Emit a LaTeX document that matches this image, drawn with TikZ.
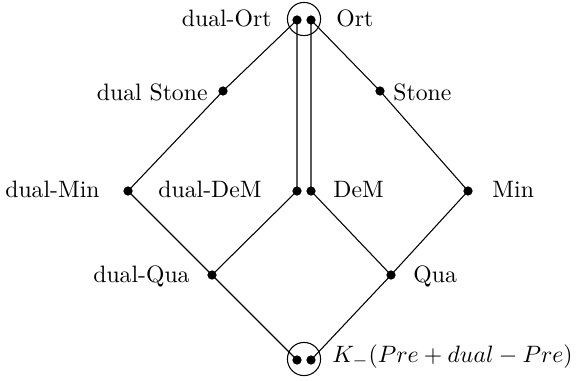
\documentclass[tikz,border=0pt]{standalone}
\begin{document}
\begin{tikzpicture}[x=0.422pt,y=-0.422pt,
  dot/.style={circle,fill=black,inner sep=0pt,minimum size=3.9pt},
  ring/.style={circle,draw,line width=0.45pt,inner sep=0pt,minimum size=14pt},
  rel/.style={line width=0.45pt},
  lbl/.style={inner sep=0pt}]
\useasboundingbox (0,0) rectangle (582,380);

% lattice points
\node[dot] (ortL) at (297,20) {};
\node[dot] (ortR) at (311,20) {};
\node[ring] (top) at (304,19) {};
\node[dot] (dStone) at (223,91) {};
\node[dot] (stone) at (380,91) {};
\node[dot] (dMin) at (128,191) {};
\node[dot] (min) at (468,191) {};
\node[dot] (dDeM) at (297,191) {};
\node[dot] (deM) at (311,191) {};
\node[dot] (dQua) at (212,275) {};
\node[dot] (qua) at (391,275) {};
\node[dot] (botL) at (297,360) {};
\node[dot] (botR) at (311,360) {};
\node[ring] (bot) at (304,359) {};

% order relations
\draw[rel] (ortL.center) -- (dStone.center) -- (dMin.center) -- (dQua.center) -- (botL.center);
\draw[rel] (ortR.center) -- (stone.center) -- (min.center) -- (qua.center) -- (botR.center);
\draw[rel] (ortL.center) -- (dDeM.center) -- (dQua.center);
\draw[rel] (ortR.center) -- (deM.center) -- (qua.center);

% labels
\node[lbl,anchor=base east] (tDualOrt) at (272,27) {dual-Ort};
\node[lbl,anchor=base west] (tOrt) at (336,27) {Ort};
\node[lbl,anchor=base east] (tDStone) at (208,100) {dual Stone};
\node[lbl,anchor=base west] (tStone) at (393,100) {Stone};
\node[lbl,anchor=base east] (tDMin) at (100,197) {dual-Min};
\node[lbl,anchor=base west] (tMin) at (492,197) {Min};
\node[lbl,anchor=base east] (tDDeM) at (262,197) {dual-DeM};
\node[lbl,anchor=base west] (tDeM) at (333,197) {DeM};
\node[lbl,anchor=base east] (tDQua) at (190,282) {dual-Qua};
\node[lbl,anchor=base west] (tQua) at (413,282) {Qua};
\node[lbl,anchor=base west] (tBot) at (332,362) {$K_{-}(Pre+dual-Pre)$};
\end{tikzpicture}
\end{document}
